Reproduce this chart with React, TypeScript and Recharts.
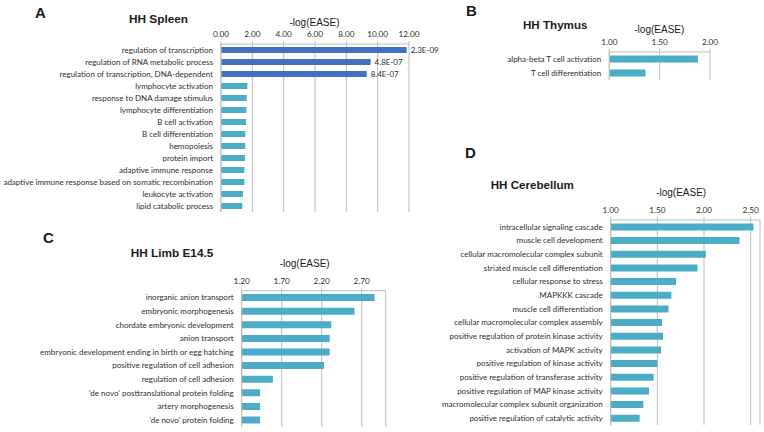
import { BarChart, Bar, XAxis, YAxis, CartesianGrid, Cell, LabelList } from 'recharts';

// HH Spleen
const spleenTerms = [
  'regulation of transcription',
  'regulation of RNA metabolic process',
  'regulation of transcription, DNA-dependent',
  'lymphocyte activation',
  'response to DNA damage stimulus',
  'lymphocyte differentiation',
  'B cell activation',
  'B cell differentiation',
  'hemopoiesis',
  'protein import',
  'adaptive immune response',
  'adaptive immune response based on somatic recombination',
  'leukocyte activation',
  'lipid catabolic process',
];
const spleenValues = [11.85, 9.55, 9.3, 1.68, 1.64, 1.62, 1.6, 1.55, 1.55, 1.53, 1.49, 1.49, 1.4, 1.36];
const spleenPvals = ['2.3E-09', '4.8E-07', '8.4E-07'];
const spleenTicks = [0, 2, 4, 6, 8, 10, 12];

// HH Thymus
const thymusTerms = ['alpha-beta T cell activation', 'T cell differentiation'];
const thymusValues = [1.88, 1.36];
const thymusTicks = [1, 1.5, 2];

// HH Limb E14.5
const limbTerms = [
  'inorganic anion transport',
  'embryonic morphogenesis',
  'chordate embryonic development',
  'anion transport',
  'embryonic development ending in birth or egg hatching',
  'positive regulation of cell adhesion',
  'regulation of cell adhesion',
  "'de novo' posttranslational protein folding",
  'artery morphogenesis',
  "'de novo' protein folding",
];
const limbValues = [2.86, 2.61, 2.32, 2.3, 2.3, 2.23, 1.59, 1.43, 1.43, 1.43];
const limbTicks = [1.2, 1.7, 2.2, 2.7];

// HH Cerebellum
const cerebTerms = [
  'intracellular signaling cascade',
  'muscle cell development',
  'cellular macromolecular complex subunit',
  'striated muscle cell differentiation',
  'cellular response to stress',
  'MAPKKK cascade',
  'muscle cell differentiation',
  'cellular macromolecular complex assembly',
  'positive regulation of protein kinase activity',
  'activation of MAPK activity',
  'positive regulation of kinase activity',
  'positive regulation of transferase activity',
  'positive regulation of MAP kinase activity',
  'macromolecular complex subunit organization',
  'positive regulation of catalytic activity',
];
const cerebValues = [2.53, 2.38, 2.02, 1.93, 1.7, 1.65, 1.62, 1.55, 1.56, 1.54, 1.5, 1.46, 1.41, 1.35, 1.31];
const cerebTicks = [1, 1.5, 2, 2.5];

const FONT = 'Lato, "Open Sans", sans-serif';
const HEAD = '"Liberation Sans", Arial, sans-serif';
const GRID = '#bdbdbd';
const TEAL = '#4bacc6';
const BLUE = '#4170c1';
const TEXT = '#2e2e2e';

type Row = { term: string; value: number; pval: string; color: string };

function buildRows(terms: string[], values: number[], pvals: string[] = [], dark = 0): Row[] {
  return terms.map((term, i) => ({
    term,
    value: values[i],
    pval: pvals[i] || '',
    color: i < dark ? BLUE : TEAL,
  }));
}

const TermTick = (props: any) => (
  <text x={props.x} y={props.y} dy="0.35em" textAnchor="end" fontSize={8} fontFamily={FONT} fill={TEXT}>
    {props.payload.value}
  </text>
);

type PanelProps = {
  rows: Row[];
  domain: [number, number];
  ticks: number[];
  left: number;
  top: number;
  width: number;
  height: number;
  margin: { top: number; right: number; bottom: number; left: number };
  yWidth: number;
  showP?: boolean;
};

function GoPanel({ rows, domain, ticks, left, top, width, height, margin, yWidth, showP }: PanelProps) {
  return (
    <div style={{ position: 'absolute', left, top }}>
      <BarChart width={width} height={height} data={rows} layout="vertical" margin={margin} barCategoryGap="25%">
        <CartesianGrid horizontal={false} stroke={GRID} />
        <XAxis
          type="number"
          orientation="top"
          domain={domain}
          ticks={ticks}
          interval={0}
          allowDataOverflow
          height={20}
          tickSize={3}
          tickMargin={4}
          tickFormatter={(v: number) => v.toFixed(2)}
          tick={{ fontSize: 8.2, fill: TEXT, fontFamily: FONT }}
          axisLine={{ stroke: GRID }}
          tickLine={{ stroke: GRID }}
        />
        <YAxis
          type="category"
          dataKey="term"
          width={yWidth}
          interval={0}
          tickSize={0}
          tickMargin={8}
          tick={<TermTick />}
          axisLine={{ stroke: GRID }}
        />
        <Bar dataKey="value" isAnimationActive={false}>
          {rows.map((r, i) => (
            <Cell key={i} fill={r.color} />
          ))}
          {showP && (
            <LabelList dataKey="pval" position="right" offset={4} fontSize={8} fontFamily={FONT} fill={TEXT} />
          )}
        </Bar>
      </BarChart>
    </div>
  );
}

function Caption({ text, left, top, size, bold, center, width }: any) {
  return (
    <div
      style={{
        position: 'absolute',
        left,
        top,
        width,
        fontFamily: HEAD,
        fontSize: size,
        fontWeight: bold ? 'bold' : 'normal',
        lineHeight: 1,
        whiteSpace: 'nowrap',
        textAlign: center ? 'center' : 'left',
        color: '#1a1a1a',
      }}
    >
      {text}
    </div>
  );
}

export default function App() {
  return (
    <div style={{ position: 'absolute', left: 0, top: 0, width: 764, height: 432, background: '#fff', overflow: 'hidden' }}>
      <Caption text="A" left={35} top={4.5} size={15} bold />
      <Caption text="HH Spleen" left={129} top={13.7} size={11.8} bold />
      <Caption text="-log(EASE)" left={264.5} top={18.3} size={10} center width={100} />
      <GoPanel
        rows={buildRows(spleenTerms, spleenValues, spleenPvals, 3)}
        domain={[0, 12]}
        ticks={spleenTicks}
        left={0}
        top={0}
        width={440}
        height={222}
        margin={{ top: 24, right: 31, bottom: 10, left: 0 }}
        yWidth={221}
        showP
      />

      <Caption text="B" left={466} top={2.5} size={15} bold />
      <Caption text="HH Thymus" left={523} top={18.5} size={11.6} bold />
      <Caption text="-log(EASE)" left={609.3} top={24.5} size={10} center width={100} />
      <GoPanel
        rows={buildRows(thymusTerms, thymusValues)}
        domain={[1, 2]}
        ticks={thymusTicks}
        left={440}
        top={0}
        width={300}
        height={90}
        margin={{ top: 32, right: 30, bottom: 10, left: 0 }}
        yWidth={169.3}
      />

      <Caption text="C" left={43} top={230.3} size={15} bold />
      <Caption text="HH Limb E14.5" left={130.7} top={248.2} size={11.8} bold />
      <Caption text="-log(EASE)" left={254.7} top={259} size={10} center width={100} />
      <GoPanel
        rows={buildRows(limbTerms, limbValues)}
        domain={[1.2, 3.0]}
        ticks={limbTicks}
        left={0}
        top={226}
        width={420}
        height={206}
        margin={{ top: 44.7, right: 34.3, bottom: 5.3, left: 0 }}
        yWidth={241.7}
      />

      <Caption text="D" left={465} top={145.3} size={15} bold />
      <Caption text="HH Cerebellum" left={490.7} top={178.7} size={11.6} bold />
      <Caption text="-log(EASE)" left={631.2} top={188.3} size={10} center width={100} />
      <GoPanel
        rows={buildRows(cerebTerms, cerebValues)}
        domain={[1, 2.6]}
        ticks={cerebTicks}
        left={440}
        top={140}
        width={324}
        height={292}
        margin={{ top: 60, right: 4, bottom: 7, left: 0 }}
        yWidth={170.7}
      />
    </div>
  );
}
